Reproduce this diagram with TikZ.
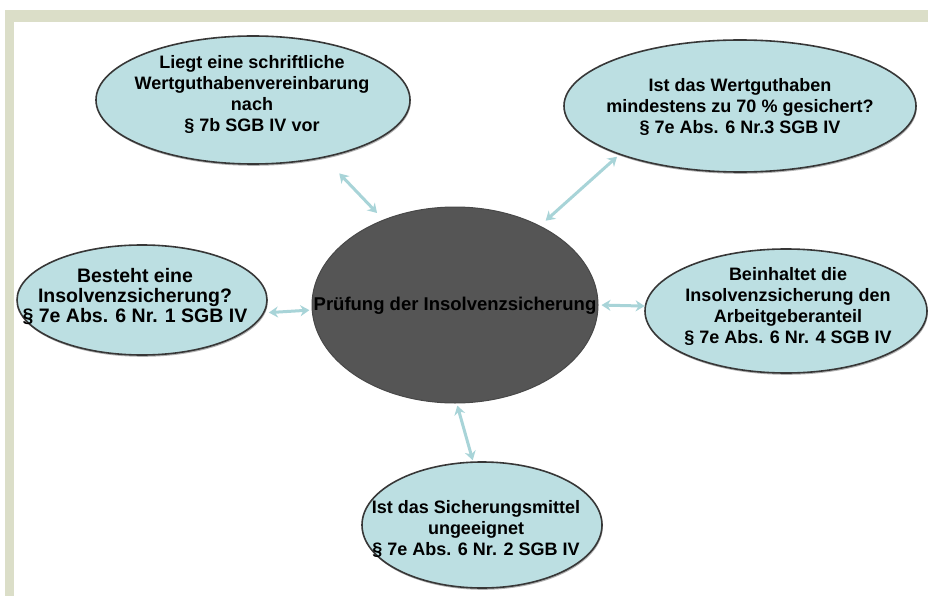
\documentclass[tikz,border=0pt]{standalone}
\usepackage{fontspec}
\setmainfont{Liberation Sans}
\usetikzlibrary{arrows.meta,shapes.geometric,shadows}
\definecolor{bubfill}{RGB}{188,223,226}
\definecolor{bubdraw}{RGB}{55,55,55}
\definecolor{arrowcol}{RGB}{168,212,216}
\definecolor{hubfill}{RGB}{85,85,85}
\definecolor{framecol}{RGB}{219,222,200}
\begin{document}
\begin{tikzpicture}[x=1pt,y=-1pt,
  bub/.style={ellipse, draw=bubdraw, line width=1.6pt, fill=bubfill, inner sep=0pt,
    drop shadow={shadow xshift=0.8pt, shadow yshift=-1.8pt, opacity=0.3, fill=black}},
  hub/.style={ellipse, fill=hubfill, draw=hubfill!85!black, line width=1pt, inner sep=0pt},
  txt/.style={align=center, font=\fontsize{18}{21}\selectfont\bfseries, inner sep=0pt},
  conn/.style={draw=arrowcol, line width=3pt, {Stealth[length=9pt,width=11pt]}-{Stealth[length=9pt,width=11pt]}}]
\useasboundingbox (0,0) rectangle (928,596);
\fill[white] (0,0) rectangle (928,596);
\fill[framecol] (5,10) rectangle (928,596);
\fill[white] (14,22) rectangle (928,596);

\node[bub, minimum width=314pt, minimum height=128pt] (tl) at (253,100) {};
\node[bub, minimum width=352pt, minimum height=132pt] (tr) at (740,106) {};
\node[bub, minimum width=250pt, minimum height=110pt] (lf) at (142,300) {};
\node[bub, minimum width=282pt, minimum height=124pt] (rt) at (786,311) {};
\node[bub, minimum width=240pt, minimum height=126pt] (bt) at (482,525) {};
\node[hub, minimum width=286pt, minimum height=196pt] (c) at (455,305) {};

\node[txt] (tlt) at (252,94) {Liegt eine schriftliche\\Wertguthabenvereinbarung\\nach\\§ 7b SGB IV vor};
\node[txt] (trt) at (740,107) {Ist das Wertguthaben\\mindestens zu 70 \% gesichert?\\§ 7e Abs. 6 Nr.3 SGB IV};
\node[txt, font=\fontsize{19.5}{20}\selectfont\bfseries] (lft) at (135,296.5) {Besteht eine\\Insolvenzsicherung?\\§ 7e Abs. 6 Nr. 1 SGB IV};
\node[txt] (rtt) at (788,306.5) {Beinhaltet die\\Insolvenzsicherung den\\Arbeitgeberanteil\\§ 7e Abs. 6 Nr. 4 SGB IV};
\node[txt] (btt) at (476,529) {Ist das Sicherungsmittel\\ungeeignet\\§ 7e Abs. 6 Nr. 2 SGB IV};
\node[txt, font=\fontsize{18.5}{21}\selectfont\bfseries] (ct) at (455,306) {Prüfung der Insolvenzsicherung};

\draw[conn, shorten <=21.6pt, shorten >=9.2pt] (tl.-39.1) -- (c.130.8);
\draw[conn, shorten <=3pt, shorten >=7.5pt] (tr.202.6) -- (c.43.2);
\draw[conn, shorten <=4.5pt, shorten >=2.3pt] (lf.-6.06) -- (c.182.4);
\draw[conn, shorten <=3pt] (c.-0.8) -- (rt.178.4);
\draw[conn, shorten <=2.2pt, shorten >=1.2pt] (c.-89.2) -- (bt.98.8);
\end{tikzpicture}
\end{document}
